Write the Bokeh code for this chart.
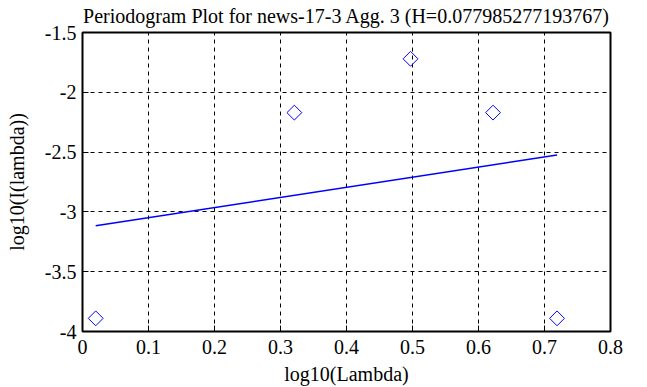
import math
from bokeh.plotting import figure
from bokeh.models import Range1d, FixedTicker
from bokeh.embed import file_html
from bokeh.resources import INLINE

# data
log_lambda = [0.020, 0.321, 0.497, 0.622, 0.719]
log_I = [-3.89, -2.17, -1.72, -2.17, -3.89]
fit_x = [0.020, 0.719]
fit_y = [-3.115, -2.525]
x_ticks = [0, 0.1, 0.2, 0.3, 0.4, 0.5, 0.6, 0.7, 0.8]
y_ticks = [-4, -3.5, -3, -2.5, -2, -1.5]
title_text = "Periodogram Plot for news-17-3 Agg. 3 (H=0.077985277193767)"

FONT = "Liberation Serif"
FS = "20px"

p = figure(width=647, height=387, output_backend="svg", toolbar_location=None,
           x_range=Range1d(0, 0.8), y_range=Range1d(-4, -1.5),
           min_border_left=82, min_border_right=37, min_border_top=32, min_border_bottom=56,
           x_axis_label="log10(Lambda)", y_axis_label="log10(I(lambda))")

p.title.text = title_text
p.title.align = "center"
p.title.vertical_align = "top"
p.title.text_font = FONT
p.title.text_font_size = FS
p.title.text_font_style = "normal"
p.title.text_color = "black"
p.title.offset = 0
p.title.standoff = 8

p.outline_line_color = "black"
p.outline_line_width = 2
p.outline_line_alpha = 1
p.background_fill_color = "white"
p.border_fill_color = "white"

for ax in (p.xaxis[0], p.yaxis[0]):
    ax.axis_line_color = None
    ax.major_tick_in = 6
    ax.major_tick_out = 0
    ax.minor_tick_line_color = None
    ax.major_tick_line_color = "black"
    ax.major_tick_line_width = 1
    ax.major_label_text_font = FONT
    ax.major_label_text_font_size = FS
    ax.major_label_text_color = "black"
    ax.axis_label_text_font = FONT
    ax.axis_label_text_font_size = FS
    ax.axis_label_text_font_style = "normal"
    ax.axis_label_text_color = "black"

p.xaxis[0].major_label_standoff = 8
p.xaxis[0].axis_label_standoff = 6
p.yaxis[0].major_label_standoff = 6
p.yaxis[0].axis_label_standoff = 14

p.xaxis[0].ticker = FixedTicker(ticks=x_ticks)
p.yaxis[0].ticker = FixedTicker(ticks=y_ticks)
p.xaxis[0].major_label_overrides = {t: f"{t:g}" for t in x_ticks}
p.yaxis[0].major_label_overrides = {t: f"{t:g}" for t in y_ticks}

p.xgrid.ticker = FixedTicker(ticks=x_ticks)
p.ygrid.ticker = FixedTicker(ticks=y_ticks)
for g in (p.xgrid[0], p.ygrid[0]):
    g.grid_line_color = "black"
    g.grid_line_dash = "4 4"
    g.grid_line_width = 1
    g.grid_line_alpha = 1

p.line(fit_x, fit_y, line_color="#0000ff", line_width=1.5)
p.scatter(log_lambda, log_I, marker="square", angle=math.pi / 4, size=10.5,
          fill_color=None, line_color="#0000ff", line_width=1)

open("out.html", "w").write(file_html(p, INLINE))
